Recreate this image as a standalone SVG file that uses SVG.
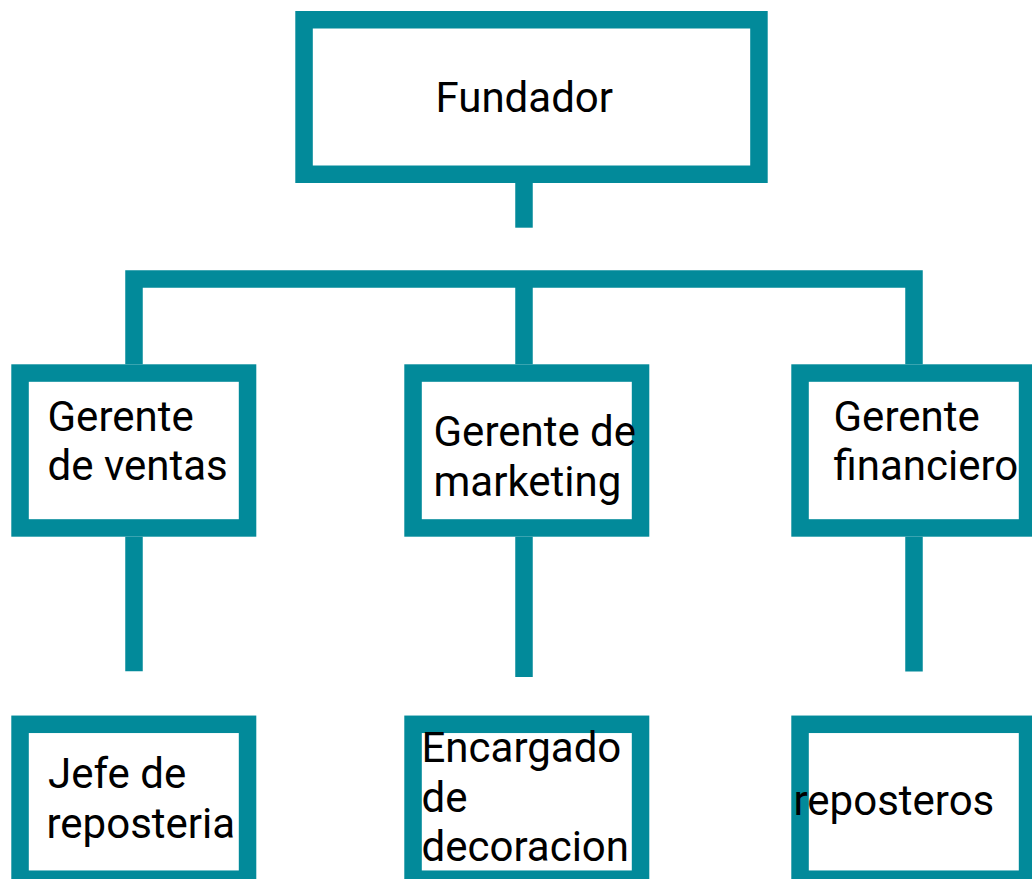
<svg xmlns="http://www.w3.org/2000/svg" width="1032" height="879" viewBox="0 0 1032 879">
<style>
.box{fill:#ffffff;stroke:#028a9a;stroke-width:17.5}
.con{fill:none;stroke:#028a9a;stroke-width:17.5;stroke-linecap:butt;stroke-linejoin:miter}
.t{font-family:Roboto,"Liberation Sans",sans-serif;font-size:42px;fill:#000000}
</style>
<rect x="0" y="0" width="1032" height="879" fill="#ffffff"/>
<g id="connectors">
<path class="con" d="M524,183 V227.7"/>
<path class="con" d="M134,364.3 V279 H914 V364.3"/>
<path class="con" d="M524,279 V364.3"/>
<path class="con" d="M134,536.7 V671.3"/>
<path class="con" d="M524,536.7 V677"/>
<path class="con" d="M914,536.7 V671.5"/>
</g>
<g id="fundador">
<rect class="box" x="304.05" y="19.75" width="454.9" height="154.5"/>
<text class="t" x="435.5" y="111.7">Fundador</text>
</g>
<g id="gerente-ventas">
<rect class="box" x="20.05" y="373.05" width="227.5" height="154.9"/>
<text class="t" x="47.5" y="430.5">Gerente</text>
<text class="t" x="47.5" y="480">de ventas</text>
</g>
<g id="gerente-marketing">
<rect class="box" x="413.05" y="373.05" width="227.5" height="154.9"/>
<text class="t" x="433.5" y="445.5">Gerente de</text>
<text class="t" x="433.5" y="495.5">marketing</text>
</g>
<g id="gerente-financiero">
<rect class="box" x="800.05" y="373.05" width="227.5" height="154.9"/>
<text class="t" x="833.5" y="430.5">Gerente</text>
<text class="t" x="833.5" y="480">financiero</text>
</g>
<g id="jefe-reposteria">
<rect class="box" x="20.05" y="724.3" width="227.5" height="154.9"/>
<text class="t" x="48" y="788.3">Jefe de</text>
<text class="t" x="46.5" y="838.3">reposteria</text>
</g>
<g id="encargado-decoracion">
<rect class="box" x="413.05" y="724.3" width="227.5" height="154.9"/>
<text class="t" x="421.5" y="761.5">Encargado</text>
<text class="t" x="421.5" y="811.5">de</text>
<text class="t" x="421.5" y="861">decoracion</text>
</g>
<g id="reposteros">
<rect class="box" x="800.05" y="724.3" width="227.5" height="154.9"/>
<text class="t" x="793.5" y="815">reposteros</text>
</g>
</svg>
